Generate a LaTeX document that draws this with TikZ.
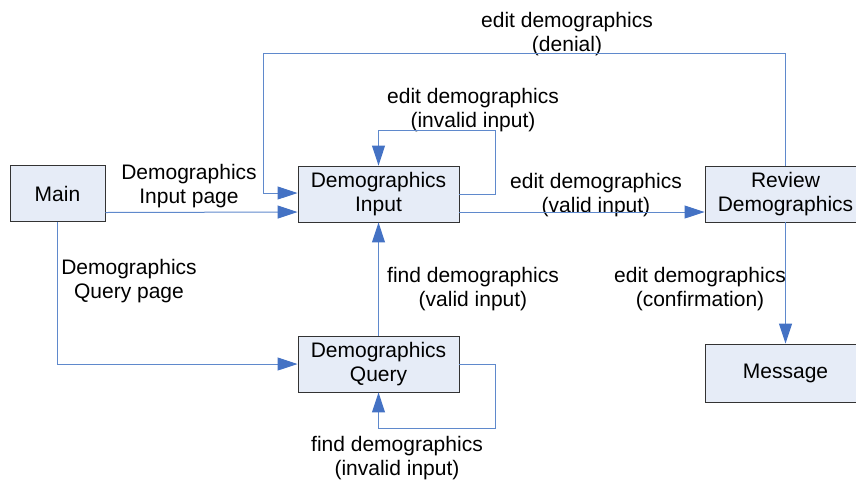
\documentclass[tikz,border=0pt]{standalone}
\usepackage{fontspec}
\setmainfont{Liberation Sans}
\usetikzlibrary{positioning,arrows.meta}
\definecolor{boxfill}{RGB}{230,236,247}
\definecolor{flowline}{RGB}{95,137,204}
\definecolor{flowhead}{RGB}{68,114,196}

\begin{document}
\begin{tikzpicture}[x=1pt, y=-1pt,
        box/.style={draw=black!80, fill=boxfill, line width=0.9pt, minimum width=161pt, minimum height=56pt, align=center, inner sep=0pt, font=\fontsize{21}{24}\selectfont},
        lbl/.style={align=center, inner sep=0pt, font=\fontsize{21}{24}\selectfont},
        flow/.style={draw=flowline, line width=1pt, -{Triangle[length=20pt, width=13pt, color=flowhead]}}
    ]
        \clip (0,0) rectangle (856,483);
        \useasboundingbox (0,0) rectangle (856,483);

        % Boxes
        \node [box, minimum width=95pt] (main) at (57.5,193.5) {Main};
        \node [box] (inp) at (378.5,194) {Demographics\\Input};
        \node [box] (qry) at (378.5,364) {Demographics\\Query};
        \node [box] (rev) at (785.5,194) {Review\\Demographics};
        \node [box, minimum height=58pt] (msg) at (785.5,373) {Message};

        % Bends
        \coordinate (denial) at (263,53);
        \coordinate (inloop) at (495,130);
        \coordinate (qloop) at (495,428);

        % Labels
        \node [lbl] (l-denial) at (567,34) {edit demographics\\(denial)};
        \node [lbl] (l-inval) at (473,110) {edit demographics\\(invalid input)};
        \node [lbl] (l-inpage) at (189,186) {Demographics\\Input page};
        \node [lbl] (l-valid) at (596,195) {edit demographics\\(valid input)};
        \node [lbl] (l-qpage) at (129,281) {Demographics\\Query page};
        \node [lbl] (l-fvalid) at (473,289) {find demographics\\(valid input)};
        \node [lbl] (l-confirm) at (700,289) {edit demographics\\(confirmation)};
        \node [lbl] (l-finval) at (397,458) {find demographics\\(invalid input)};

        % Connections
        \draw [flow] ([yshift=-19pt]main.east) -- ([yshift=-18pt]inp.west);
        \draw [flow] (main.south) |- (qry.west);
        \draw [flow] (inp.east) -| (inloop) -| (inp.north);
        \draw [flow] ([yshift=-18pt]inp.east) -- ([yshift=-18pt]rev.west);
        \draw [flow] (qry.north) -- (inp.south);
        \draw [flow] (qry.east) -| (qloop) -| (qry.south);
        \draw [flow] (rev.north) |- (denial) |- ([yshift=1pt]inp.west);
        \draw [flow] (rev.south) -- (msg.north);
    \end{tikzpicture}
\end{document}
